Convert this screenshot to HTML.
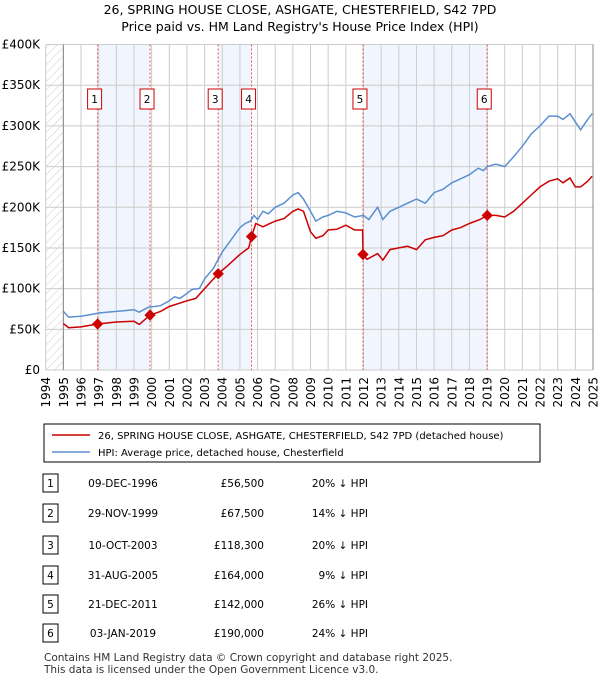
<!DOCTYPE html>
<html><head><meta charset="utf-8">
<style>
body{margin:0;background:#fff;font-family:"DejaVu Sans","Liberation Sans",sans-serif;}
svg{display:block}
text{font-family:"DejaVu Sans","Liberation Sans",sans-serif;}
</style></head><body>
<svg width="600" height="680" xmlns="http://www.w3.org/2000/svg" id="chart">
<defs>
<pattern id="hatch" width="6" height="6" patternUnits="userSpaceOnUse" patternTransform="rotate(45)">
<line x1="0" y1="0" x2="0" y2="6" stroke="#ccc" stroke-width="1"/></pattern>
</defs>
<text x="300" y="14" text-anchor="middle" font-size="12.5" fill="#000">26, SPRING HOUSE CLOSE, ASHGATE, CHESTERFIELD, S42 7PD</text>
<text x="300" y="31" text-anchor="middle" font-size="12.5" fill="#000">Price paid vs. HM Land Registry's House Price Index (HPI)</text>
<g id="plot"></g>
<g id="legend">
<rect x="44" y="424" width="496" height="38" fill="#fff" stroke="#000" stroke-width="1"/>
<line x1="52" y1="435" x2="90" y2="435" stroke="#cc0000" stroke-width="1.5"/>
<text x="98" y="439" font-size="10">26, SPRING HOUSE CLOSE, ASHGATE, CHESTERFIELD, S42 7PD (detached house)</text>
<line x1="52" y1="452" x2="90" y2="452" stroke="#5b8fd0" stroke-width="1.5"/>
<text x="98" y="456" font-size="10">HPI: Average price, detached house, Chesterfield</text>
</g>
<g id="table"></g>
<text x="44" y="661" font-size="10.5" fill="#333">Contains HM Land Registry data © Crown copyright and database right 2025.</text>
<text x="44" y="673" font-size="10.5" fill="#333">This data is licensed under the Open Government Licence v3.0.</text>
</svg>
<script>
const yTicks=[0,50,100,150,200,250,300,350,400];
const yTickLabels=["£0","£50K","£100K","£150K","£200K","£250K","£300K","£350K","£400K"];
const xYears=[1994,1995,1996,1997,1998,1999,2000,2001,2002,2003,2004,2005,2006,2007,2008,2009,2010,2011,2012,2013,2014,2015,2016,2017,2018,2019,2020,2021,2022,2023,2024,2025];
const saleLabels=["1","2","3","4","5","6"];
const saleTimes=[1996.94,1999.91,2003.77,2005.66,2011.97,2019.01];
const salePrices=[56.5,67.5,118.3,164,142,190];
const saleDates=["09-DEC-1996","29-NOV-1999","10-OCT-2003","31-AUG-2005","21-DEC-2011","03-JAN-2019"];
const salePriceText=["£56,500","£67,500","£118,300","£164,000","£142,000","£190,000"];
const salePctText=["20% ↓ HPI","14% ↓ HPI","20% ↓ HPI","9% ↓ HPI","26% ↓ HPI","24% ↓ HPI"];
const hpiT=[1995,1995.3,1996,1996.5,1997,1998,1999,1999.3,1999.8,2000.5,2001,2001.3,2001.6,2002,2002.3,2002.7,2003,2003.5,2004,2004.5,2005,2005.3,2005.6,2005.8,2006,2006.3,2006.6,2007,2007.5,2008,2008.3,2008.6,2009,2009.3,2009.7,2010,2010.5,2011,2011.5,2012,2012.3,2012.8,2013.1,2013.5,2014,2014.5,2015,2015.5,2016,2016.5,2017,2017.5,2018,2018.5,2018.8,2019,2019.5,2020,2020.5,2021,2021.5,2022,2022.5,2023,2023.3,2023.7,2024,2024.3,2024.7,2024.95];
const hpiV=[72,65,66,68,70,72,74,71,77,79,85,90,88,94,99,100,112,125,145,160,175,180,183,190,185,195,192,200,205,215,218,210,195,183,188,190,195,193,188,190,185,200,185,195,200,205,210,205,218,222,230,235,240,248,245,250,253,250,262,275,290,300,312,312,308,315,305,295,308,315];
const ppT=[1995,1995.3,1996,1996.94,1998,1999,1999.3,1999.91,2000.5,2001,2002,2002.5,2003,2003.77,2004.3,2005,2005.5,2005.66,2005.9,2006.3,2007,2007.5,2008,2008.3,2008.6,2009,2009.3,2009.7,2010,2010.5,2011,2011.5,2011.95,2011.97,2012.2,2012.8,2013.1,2013.5,2014,2014.5,2015,2015.5,2016,2016.5,2017,2017.5,2018,2018.6,2019.01,2019.5,2020,2020.5,2021,2021.5,2022,2022.5,2023,2023.3,2023.7,2024,2024.3,2024.7,2024.95];
const ppV=[57,52,53,56.5,59,60,56,67.5,72,78,85,88,100,118.3,128,142,150,164,180,176,183,186,195,198,195,170,162,165,172,173,178,172,172,142,136,143,135,148,150,152,148,160,163,165,172,175,180,185,190,190,188,195,205,215,225,232,235,230,236,225,225,232,238];

const X0=45.7,X1=593,Y0=370,Y1=44.5;
const x=t=>X0+(t-1994)/(2025-1994)*(X1-X0);
const y=v=>Y0-v/400*(Y0-Y1);
const NS="http://www.w3.org/2000/svg";
function mk(tag,attrs,parent,txt){const e=document.createElementNS(NS,tag);for(const k in attrs)e.setAttribute(k,attrs[k]);if(txt!==undefined)e.textContent=txt;parent.appendChild(e);return e;}
const plot=document.getElementById('plot');
for(let i=0;i<saleTimes.length;i+=2){
 const r=mk('rect',{x:x(saleTimes[i]),y:Y1,width:x(saleTimes[i+1])-x(saleTimes[i]),height:Y0-Y1,fill:'#eef3fc',opacity:0.8},plot);
 
 
}
const hr=mk('rect',{x:X0,y:Y1,width:x(1995)-X0,height:Y0-Y1,fill:'url(#hatch)'},plot);


xYears.forEach(t=>{const l=mk('line',{x1:x(t),x2:x(t),y1:Y1,y2:Y0,stroke:'#ccc','stroke-width':1},plot);
 
 
 const tx=mk('text',{x:0,y:0,'font-size':12,'text-anchor':'end',transform:`translate(${x(t)+4.5},${Y0+7}) rotate(-90)`},plot,String(t));
 
 
});
yTicks.forEach((v,i)=>{const l=mk('line',{x1:X0,x2:X1,y1:y(v),y2:y(v),stroke:'#ccc','stroke-width':1},plot);
 
 
 const tx=mk('text',{x:40,y:y(v)+4,'font-size':12,'text-anchor':'end'},plot,yTickLabels[i]);
 
 
});
const ax=mk('line',{x1:x(1995),x2:x(1995),y1:Y1,y2:Y0,stroke:'#888'},plot);


const ax2=mk('line',{x1:X1,x2:X1,y1:Y1,y2:Y0,stroke:'#888'},plot);


saleTimes.forEach((t,i)=>{const l=mk('line',{x1:x(t),x2:x(t),y1:Y1,y2:Y0,stroke:'#e05050','stroke-dasharray':'2,2','stroke-width':1},plot);
 
 
 const b=mk('rect',{x:x(t)-10,y:89,width:14,height:20,fill:'#fff',stroke:'#cc0000'},plot);
 
 
 const tx=mk('text',{x:x(t)-3,y:103,'font-size':10.5,'text-anchor':'middle'},plot,saleLabels[i]);
 
 
});
const path=(T,V)=>T.map((t,i)=>(i?'L':'M')+x(t).toFixed(1)+','+y(V[i]).toFixed(1)).join('');
const hp=mk('path',{d:path(hpiT,hpiV),fill:'none',stroke:'#5b8fd0','stroke-width':1.5},plot);


const pp=mk('path',{d:path(ppT,ppV),fill:'none',stroke:'#cc0000','stroke-width':1.5},plot);


saleTimes.forEach((t,i)=>{const d=mk('rect',{x:x(t)-4,y:y(salePrices[i])-4,width:8,height:8,fill:'#cc0000',transform:`rotate(45 ${x(t)} ${y(salePrices[i])})`},plot);
 
 
});
const tb=document.getElementById('table');
const rowY=[483,513,545,575,604,633];
saleLabels.forEach((s,i)=>{const ry=rowY[i];
 const b=mk('rect',{x:43,y:ry-9,width:15,height:18,fill:'#fff',stroke:'#000'},tb);
 
 
 const a=mk('text',{x:50.5,y:ry+4,'font-size':10.5,'text-anchor':'middle'},tb,s);
 
 
 const d=mk('text',{x:123,y:ry+4,'font-size':10.5,'text-anchor':'middle'},tb,saleDates[i]);
 
 
 const p=mk('text',{x:264,y:ry+4,'font-size':10.5,'text-anchor':'end'},tb,salePriceText[i]);
 
 
 const c=mk('text',{x:368,y:ry+4,'font-size':10.5,'text-anchor':'end'},tb,salePctText[i]);
 
 
});
</script>
</body></html>
